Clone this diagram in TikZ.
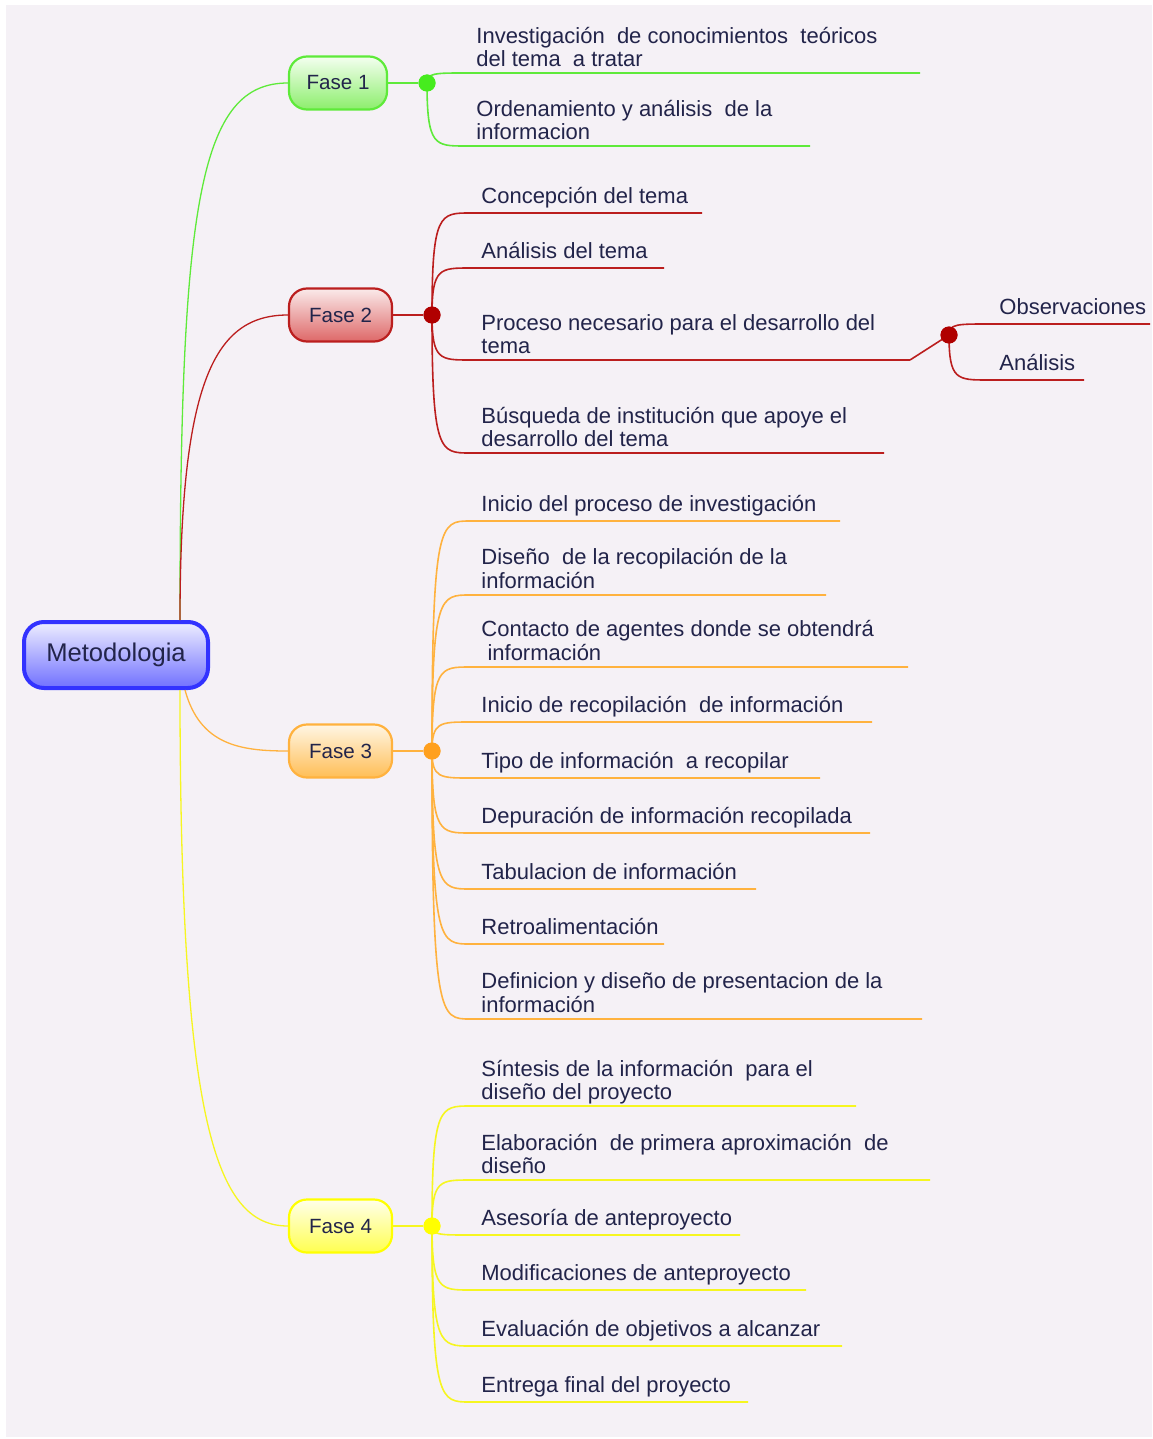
\documentclass[tikz,border=0pt]{standalone}
\usepackage{fontspec}
\setmainfont{Liberation Sans}
\usetikzlibrary{calc}
\definecolor{bgc}{HTML}{F5F1F6}
\definecolor{txt}{HTML}{22244A}
\definecolor{cgreen}{HTML}{5EEA3A}
\definecolor{cred}{HTML}{BB1E1E}
\definecolor{corange}{HTML}{FFB23E}
\definecolor{cyellow}{HTML}{F6F620}
\newcommand\mlines[1]{\begin{tabular}[b]{@{}l@{}}#1\end{tabular}}
% #1 name, #2 hub, #3 colour, #4 x start, #5 underline y, #6 x end, #7 text, #8 baseline offset
\newcommand\mmleaf[8]{%
  \coordinate (#1s) at (#4,#5);
  \coordinate (#1e) at (#6,#5);
  \node[leaf] (#1) at (#4+11,#5-#8) {\mlines{#7}};
  \draw[branch,#3] (#2.center) .. controls (#2.center |- #1s) and ($(#2.center |- #1s)+(8,0)$) .. (#1s) -- (#1e);
}
\tikzset{
  leaf/.style={inner sep=0pt, anchor=base west, text=txt, font=\fontsize{11}{11.5}\selectfont},
  branch/.style={line width=0.8pt},
  mainline/.style={line width=0.65pt},
  fasebox/.style={rounded corners=9pt, minimum height=26.5pt, minimum width=51.5pt, inner sep=0pt, line width=1.1pt, text=txt, font=\fontsize{10.3}{12}\selectfont},
  hubdot/.style={circle, inner sep=0pt, minimum size=8.5pt},
}
\begin{document}
\begin{tikzpicture}[x=0.5pt,y=-0.5pt]
\useasboundingbox (0,0) rectangle (1152,1439);
\fill[bgc] (6,5) rectangle (1152,1437);

% root
\node[rounded corners=10pt, minimum width=92pt, minimum height=33pt, inner sep=0pt, line width=2pt,
      draw={rgb,255:red,50;green,50;blue,255}, top color={rgb,255:red,238;green,238;blue,255},
      bottom color={rgb,255:red,112;green,112;blue,255}, text=txt, font=\fontsize{12.8}{14}\selectfont]
      (root) at (116,655) {Metodologia};

% phases
\node[fasebox, minimum width=49pt, draw=cgreen, top color={rgb,255:red,244;green,255;blue,240}, bottom color={rgb,255:red,140;green,238;blue,108}] (f1) at (338,83) {Fase 1};
\node[fasebox, draw=cred, top color={rgb,255:red,250;green,234;blue,234}, bottom color={rgb,255:red,222;green,104;blue,104}] (f2) at (340.5,315) {Fase 2};
\node[fasebox, draw=corange, top color={rgb,255:red,255;green,246;blue,228}, bottom color={rgb,255:red,255;green,190;blue,86}] (f3) at (340.5,751) {Fase 3};
\node[fasebox, draw={rgb,255:red,255;green,255;blue,0}, top color={rgb,255:red,255;green,255;blue,234}, bottom color={rgb,255:red,255;green,255;blue,80}] (f4) at (340.5,1226) {Fase 4};

% root connectors
\draw[mainline,cgreen] ($(root.north)+(64,0)$) .. controls (180,200) and (200,83) .. (f1.west);
\draw[mainline,cred] ($(root.north)+(64,0)$) .. controls (180,380) and (215,315) .. (f2.west);
\draw[mainline,corange] ($(root.south)+(69,0)$) .. controls (200,745) and (240,751) .. (f3.west);
\draw[mainline,cyellow] ($(root.south)+(64,0)$) .. controls (180,1120) and (215,1226) .. (f4.west);

% hubs
\node[hubdot, fill={rgb,255:red,70;green,236;blue,30}] (hub1) at (427,83) {};
\node[hubdot, fill={rgb,255:red,176;green,0;blue,0}] (hub2) at (432,315) {};
\node[hubdot, fill={rgb,255:red,255;green,160;blue,30}] (hub3) at (432,751) {};
\node[hubdot, fill={rgb,255:red,255;green,255;blue,0}] (hub4) at (432,1226) {};
\node[hubdot, fill={rgb,255:red,176;green,0;blue,0}] (hub2b) at (949,335) {};

\draw[branch,cgreen] (f1.east) -- (hub1);
\draw[branch,cred] (f2.east) -- (hub2);
\draw[branch,corange] (f3.east) -- (hub3);
\draw[branch,cyellow] (f4.east) -- (hub4);

% Fase 1
\mmleaf{c11}{hub1}{cgreen}{465}{73}{920}{Investigación~ de conocimientos~ teóricos\\del tema~ a tratar}{6}
\mmleaf{c12}{hub1}{cgreen}{465}{146}{810}{Ordenamiento y análisis~ de la\\informacion}{6}

% Fase 2
\mmleaf{c21}{hub2}{cred}{470}{213}{702}{Concepción del tema}{9.5}
\mmleaf{c22}{hub2}{cred}{470}{268}{664}{Análisis del tema}{9.5}
\mmleaf{c23}{hub2}{cred}{470}{360}{910}{Proceso necesario para el desarrollo del\\tema}{7}
\mmleaf{c24}{hub2}{cred}{470}{453}{884}{Búsqueda de institución que apoye el\\desarrollo del tema}{7}
\draw[branch,cred] (c23e) -- (hub2b.center);
\mmleaf{c231}{hub2b}{cred}{988}{324}{1150}{Observaciones}{9.5}
\mmleaf{c232}{hub2b}{cred}{988}{380}{1084}{Análisis}{9.5}

% Fase 3
\mmleaf{c31}{hub3}{corange}{470}{521}{840}{Inicio del proceso de investigación}{10}
\mmleaf{c32}{hub3}{corange}{470}{595}{826}{Diseño~ de la recopilación de la\\información}{7}
\mmleaf{c33}{hub3}{corange}{470}{667}{908}{Contacto de agentes donde se obtendrá\\\ información}{7}
\mmleaf{c34}{hub3}{corange}{470}{722}{872}{Inicio de recopilación~ de información}{9.5}
\mmleaf{c35}{hub3}{corange}{470}{778}{820}{Tipo de información~ a recopilar}{9.5}
\mmleaf{c36}{hub3}{corange}{470}{833}{870}{Depuración de información recopilada}{9.5}
\mmleaf{c37}{hub3}{corange}{470}{889}{756}{Tabulacion de información}{9.5}
\mmleaf{c38}{hub3}{corange}{470}{944}{664}{Retroalimentación}{9.5}
\mmleaf{c39}{hub3}{corange}{470}{1019}{922}{Definicion y diseño de presentacion de la\\información}{7}

% Fase 4
\mmleaf{c41}{hub4}{cyellow}{470}{1106}{856}{Síntesis de la información~ para el\\diseño del proyecto}{7}
\mmleaf{c42}{hub4}{cyellow}{470}{1180}{930}{Elaboración~ de primera aproximación~ de\\diseño}{7}
\mmleaf{c43}{hub4}{cyellow}{470}{1235}{740}{Asesoría de anteproyecto}{10}
\mmleaf{c44}{hub4}{cyellow}{470}{1290}{806}{Modificaciones de anteproyecto}{10}
\mmleaf{c45}{hub4}{cyellow}{470}{1346}{842}{Evaluación de objetivos a alcanzar}{10}
\mmleaf{c46}{hub4}{cyellow}{470}{1402}{748}{Entrega final del proyecto}{10}

% redraw hubs on top
\node[hubdot, fill={rgb,255:red,70;green,236;blue,30}] at (hub1) {};
\node[hubdot, fill={rgb,255:red,176;green,0;blue,0}] at (hub2) {};
\node[hubdot, fill={rgb,255:red,255;green,160;blue,30}] at (hub3) {};
\node[hubdot, fill={rgb,255:red,255;green,255;blue,0}] at (hub4) {};
\node[hubdot, fill={rgb,255:red,176;green,0;blue,0}] at (hub2b) {};
\end{tikzpicture}
\end{document}
